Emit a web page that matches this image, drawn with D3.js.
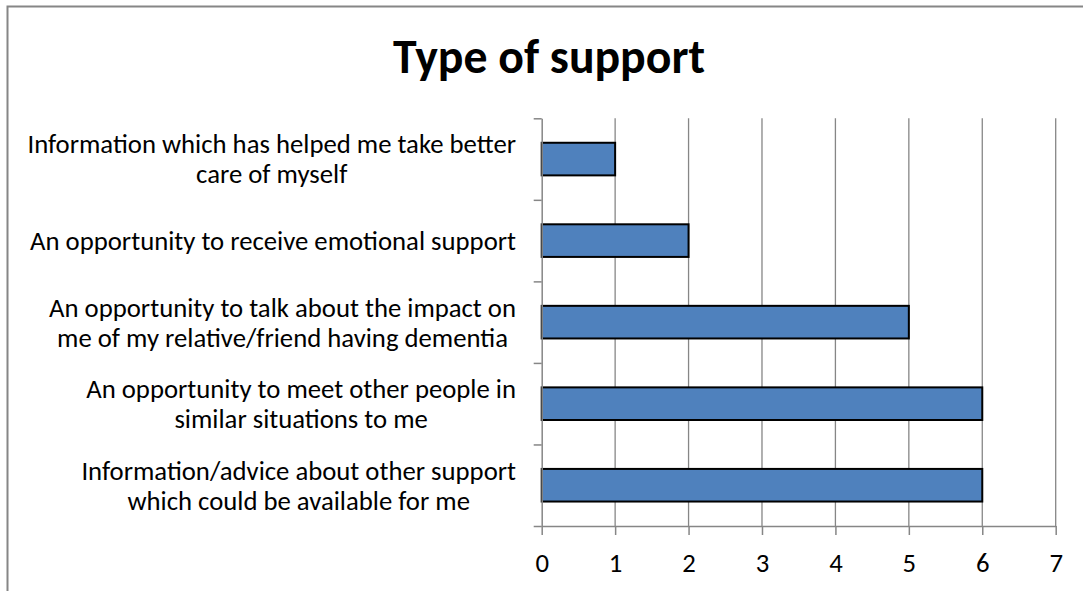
<!DOCTYPE html>
<html>
<head>
<meta charset="utf-8">
<script src="https://cdn.jsdelivr.net/npm/d3@7"></script>
<style>
	html, body { margin: 0; padding: 0; background: #fff; overflow: hidden; }
	text { font-family: Carlito, Lato, sans-serif; fill: #000; }
</style>
</head>
<body>
<div id="chart"></div>
<script>
'use strict'

var TITLE = 'Type of support';

// top to bottom, as drawn
var categories = [
	['Information which has helped me take better', 'care of myself'],
	['An opportunity to receive emotional support'],
	['An opportunity to talk about the impact on', 'me of my relative/friend having dementia'],
	['An opportunity to meet other people in', 'similar situations to me'],
	['Information/advice about other support', 'which could be available for me']
];
var values = [1, 2, 5, 6, 6];
var xTicks = [0, 1, 2, 3, 4, 5, 6, 7];

(function() {
	var dimensions = { width: 1083, height: 591 };
	var plot = { left: 541.7, right: 1055.7, top: 118.3, bottom: 526 };

	var svg = d3.select('#chart')
		.append('svg')
		.attr('width', dimensions.width)
		.attr('height', dimensions.height);

	// chart frame (right and bottom edges fall outside the picture)
	svg.append('rect')
		.attr('x', 7.5)
		.attr('y', 6.5)
		.attr('width', 1200)
		.attr('height', 700)
		.attr('fill', '#fff')
		.attr('stroke', '#868686')
		.attr('stroke-width', 2);

	// fit the fallback font to the widths seen in the reference
	var probe = svg.append('text').attr('font-size', 24).text(categories[1][0]);
	var labelSize = 24 * 486 / probe.node().getComputedTextLength();
	probe.remove();

	var titleProbe = svg.append('text').attr('font-size', 44).attr('font-weight', 'bold').text(TITLE);
	var titleSize = 44 * 312 / titleProbe.node().getComputedTextLength();
	titleProbe.remove();

	var x = d3.scaleLinear()
		.domain([0, 7])
		.range([plot.left, plot.right]);

	var y = d3.scaleBand()
		.domain(d3.range(categories.length))
		.range([plot.top, plot.bottom])
		.paddingInner(0.6)
		.paddingOuter(0.3);

	var step = y.step();

	// gridlines
	svg.append('g')
		.selectAll('line')
		.data(xTicks.slice(1))
		.enter().append('line')
		.attr('x1', function(d) { return x(d); })
		.attr('x2', function(d) { return x(d); })
		.attr('y1', plot.top)
		.attr('y2', plot.bottom)
		.attr('stroke', '#868686')
		.attr('stroke-width', 1.3);

	// bars
	svg.append('g')
		.selectAll('rect')
		.data(values)
		.enter().append('rect')
		.attr('x', x(0))
		.attr('y', function(d, i) { return y(i); })
		.attr('width', function(d) { return x(d) - x(0); })
		.attr('height', y.bandwidth())
		.attr('fill', '#4F81BD')
		.attr('stroke', '#000')
		.attr('stroke-width', 2);

	// x axis
	var xAxis = d3.axisBottom(x)
		.tickValues(xTicks)
		.tickFormat(d3.format('d'))
		.tickSize(9)
		.tickSizeOuter(0)
		.tickPadding(18);

	var gx = svg.append('g')
		.attr('transform', 'translate(0,' + plot.bottom + ')')
		.call(xAxis);
	gx.select('.domain').attr('stroke', '#868686').attr('stroke-width', 1.5);
	gx.selectAll('.tick line').attr('stroke', '#868686').attr('stroke-width', 1.5);
	gx.selectAll('.tick text')
		.attr('font-size', labelSize)
		.attr('font-family', 'Carlito, Lato, sans-serif')
		.attr('fill', '#000');

	// y axis: ticks sit on category boundaries
	var boundaries = d3.range(categories.length + 1).map(function(i) { return plot.top + i * step; });
	var yLine = d3.scaleLinear().domain([0, categories.length]).range([plot.top, plot.bottom]);
	var yAxis = d3.axisLeft(yLine)
		.tickValues(d3.range(categories.length + 1))
		.tickFormat('')
		.tickSize(8)
		.tickSizeOuter(0);

	var gy = svg.append('g')
		.attr('transform', 'translate(' + plot.left + ',0)')
		.call(yAxis);
	gy.select('.domain').attr('stroke', '#868686').attr('stroke-width', 1.5);
	gy.selectAll('.tick line').attr('stroke', '#868686').attr('stroke-width', 1.5);

	// category labels, lines centred on each other, block right-aligned
	var lineGap = 30;
	var labels = svg.append('g');
	categories.forEach(function(lines, i) {
		var cy = y(i) + y.bandwidth() / 2;
		var g = labels.append('g');
		var texts = lines.map(function(line, j) {
			return g.append('text')
				.attr('font-size', labelSize)
				.attr('text-anchor', 'middle')
				.attr('y', cy + (j - (lines.length - 1) / 2) * lineGap)
				.attr('dy', '0.35em')
				.text(line);
		});
		var widest = d3.max(texts, function(t) { return t.node().getComputedTextLength(); });
		var cx = 516 - widest / 2;
		texts.forEach(function(t) { t.attr('x', cx); });
	});

	svg.append('text')
		.attr('x', 549)
		.attr('y', 72.7)
		.attr('text-anchor', 'middle')
		.attr('font-size', titleSize)
		.attr('font-weight', 'bold')
		.text(TITLE);
})();
</script>
</body>
</html>
